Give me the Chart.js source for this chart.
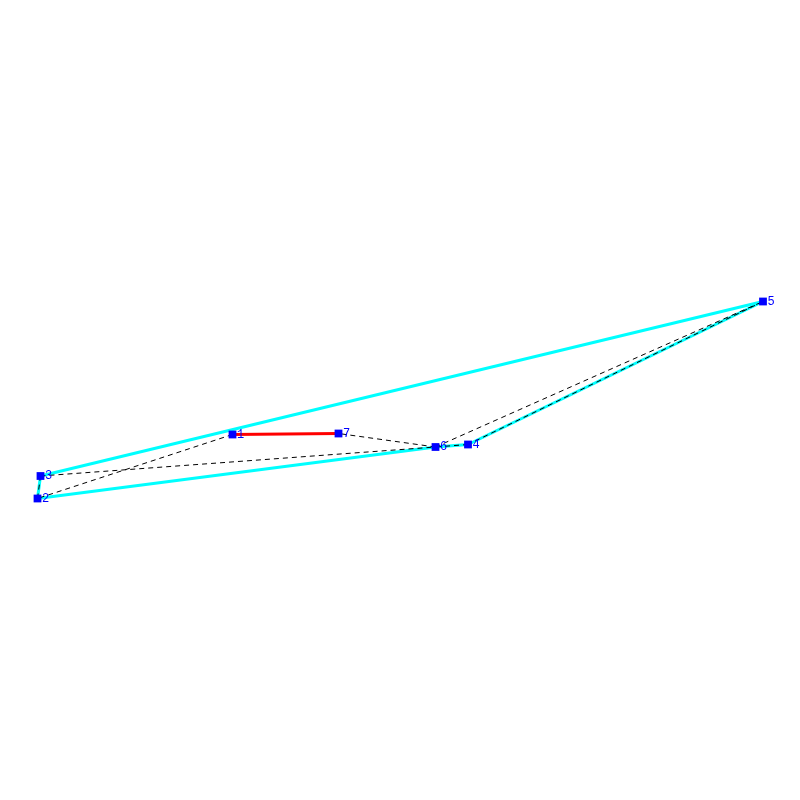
<!DOCTYPE html>
<html>
<head>
<meta charset="utf-8">
<style>
  html, body { margin: 0; padding: 0; background: #fff; }
  canvas { display: block; }
</style>
<script src="https://cdn.jsdelivr.net/npm/chart.js@4/dist/chart.umd.min.js"></script>
</head>
<body>
<canvas id="myChart" width="800" height="800"></canvas>
<script>
// node positions, top-left origin
const nodeLabels = ['1', '2', '3', '4', '5', '6', '7'];
const nodeX = [232.5, 37.5, 40.5, 468, 763, 435.5, 338.5];
const nodeY = [434.5, 498.5, 476, 444.5, 301.5, 447, 433.5];

// edges as pairs of node labels
const cyanEdges = [[3, 5], [5, 4], [4, 6], [6, 2], [2, 3]];
const redEdges = [[1, 7]];
const dashedEdges = [[1, 2], [2, 3], [3, 6], [6, 7], [6, 5], [5, 4], [4, 6]];

const edgeDataset = (edge, color, width, dash) => ({
    data: edge.map(n => ({ x: nodeX[n - 1], y: nodeY[n - 1] })),
    showLine: true,
    borderColor: color,
    borderWidth: width,
    borderDash: dash,
    pointRadius: 0,
    fill: false
});

// chart.js paints the first dataset last, so the squares go first
const datasets = [
    {
        data: nodeX.map((x, i) => ({ x: x, y: nodeY[i] })),
        showLine: false,
        pointStyle: 'rect',
        pointRadius: 5.5,
        pointBorderWidth: 0,
        pointBackgroundColor: '#0000ff',
        pointBorderColor: '#0000ff'
    },
    ...dashedEdges.map(e => edgeDataset(e, '#000000', 1, [5, 4])),
    ...redEdges.map(e => edgeDataset(e, '#ff0000', 3, [])),
    ...cyanEdges.map(e => edgeDataset(e, '#00ffff', 3, []))
];

// node numbers next to the squares
const nodeLabelPlugin = {
    id: 'nodeLabels',
    afterDatasetsDraw(chart) {
        const c = chart.ctx;
        c.save();
        c.fillStyle = '#0000ff';
        c.font = '12px "Liberation Mono"';
        c.textBaseline = 'middle';
        nodeLabels.forEach((label, i) => {
            c.fillText(label, chart.scales.x.getPixelForValue(nodeX[i]) + 4.5, chart.scales.y.getPixelForValue(nodeY[i]));
        });
        c.restore();
    }
};

const ctx = document.getElementById('myChart').getContext('2d');
new Chart(ctx, {
    type: 'scatter',
    data: { datasets: datasets },
    plugins: [nodeLabelPlugin],
    options: {
        responsive: false,
        animation: false,
        devicePixelRatio: 1,
        layout: { padding: 0, autoPadding: false },
        plugins: {
            legend: { display: false },
            tooltip: { enabled: false },
            title: { display: false }
        },
        scales: {
            x: { type: 'linear', min: 0, max: 800, display: false },
            y: { type: 'linear', min: 0, max: 800, reverse: true, display: false }
        }
    }
});
</script>
</body>
</html>
